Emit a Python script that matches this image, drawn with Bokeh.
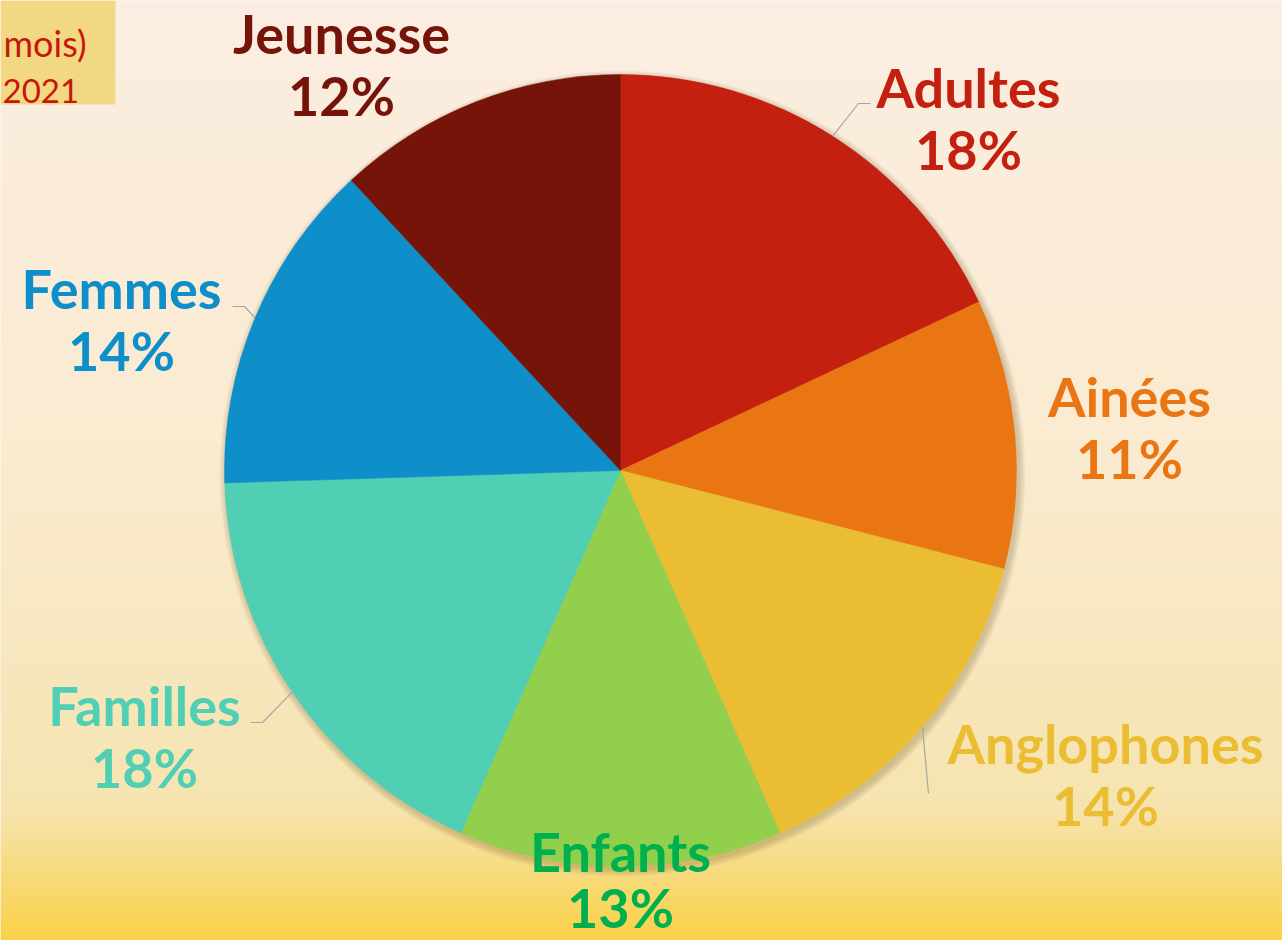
import numpy as np
from bokeh.plotting import figure
from bokeh.models import ColumnDataSource
from bokeh.core.properties import value
from bokeh.embed import file_html
from bokeh.resources import INLINE

# ---- data ----
categories = ["Adultes", "Ainées", "Anglophones", "Enfants", "Familles", "Femmes", "Jeunesse"]
shares = [18.0, 11.0, 14.4, 13.2, 17.9, 13.6, 11.9]
pct_labels = ["18%", "11%", "14%", "13%", "18%", "14%", "12%"]
slice_colors = ["#C4200F", "#E97612", "#EBBD33", "#92CF4C", "#51CFB4", "#0E8FC9", "#771409"]
label_colors = ["#C4200F", "#E97612", "#EBBD33", "#00B04F", "#51CFB4", "#0E8FC9", "#771409"]
title_lines = ["mois)", "2021"]

W, H = 1282, 940
CX, CY, R = 620, H - 470, 396

p = figure(width=W, height=H, x_range=(0, W), y_range=(0, H),
           output_backend="svg", toolbar_location=None,
           x_axis_location=None, y_axis_location=None,
           min_border=0, outline_line_color=None)
p.grid.visible = False
p.background_fill_color = "#FCEEE2"
p.border_fill_color = "#FCEEE2"

# background gradient
stops = [(0.0, (252, 238, 226)), (0.5, (250, 235, 208)), (0.86, (246, 228, 176)),
         (0.94, (248, 218, 118)), (1.0, (250, 210, 72))]
n = 240
img = np.zeros((n, 1), dtype=np.uint32)
view = img.view(dtype=np.uint8).reshape((n, 1, 4))
for i in range(n):
    t = 1 - i / (n - 1)  # row 0 is bottom
    c = stops[-1][1]
    for k in range(len(stops) - 1):
        t0, c0 = stops[k]
        t1, c1 = stops[k + 1]
        if t0 <= t <= t1:
            f = (t - t0) / (t1 - t0)
            c = [int(c0[j] + (c1[j] - c0[j]) * f) for j in range(3)]
            break
    view[i, 0, 0:3] = c
    view[i, 0, 3] = 255
p.image_rgba(image=[img], x=0, y=0, dw=W, dh=H)

# title box (cropped in the reference)
p.quad(left=0, right=115, bottom=H - 104, top=H, fill_color="#F3D883", line_color=None)
p.text(x=[3], y=[H - 42], text=[title_lines[0]], text_align="left",
       text_baseline="alphabetic", text_color="#C8160A", text_font=value("Lato"),
       text_font_size="36px")
p.text(x=[2], y=[H - 90], text=[title_lines[1]], text_align="left",
       text_baseline="alphabetic", text_color="#C8160A", text_font=value("Lato"),
       text_font_size="33px")

# shadow
for k in range(7):
    p.circle(x=CX + 2, y=CY - 3, radius=R + 7 - k, fill_color="#6b5a30",
             fill_alpha=0.045, line_color=None)

# pie
fr = np.array(shares) / sum(shares)
cum = np.concatenate([[0], np.cumsum(fr)])
start = np.pi / 2 - 2 * np.pi * cum[:-1]
end = np.pi / 2 - 2 * np.pi * cum[1:]
src = ColumnDataSource(dict(cat=categories, start=start, end=end, color=slice_colors))
p.wedge(x=CX, y=CY, radius=R, start_angle="start", end_angle="end", direction="clock",
        fill_color="color", line_color="color", line_width=0.5, source=src)

# leader lines from slice mid-angles
mid = (start + end) / 2
ex = CX + R * np.cos(mid)
ey = CY + R * np.sin(mid)
leader_targets = {0: [(858, H - 103), (870, H - 103)],
                  2: [(928, H - 793)],
                  4: [(262, H - 722), (250, H - 722)],
                  5: [(244, H - 306), (232, H - 306)]}
for i, pts in leader_targets.items():
    xs = [ex[i]] + [q[0] for q in pts]
    ys = [ey[i]] + [q[1] for q in pts]
    p.line(xs, ys, line_color="#A6A6A6", line_width=1.2)

# labels (layout positions)
lab_x = [968, 1129, 1105, 620, 144, 121, 341]
lab_y1 = [104, 413, 760, 868, 722, 305, 50]
lab_gap = [62, 62, 62, 56, 62, 62, 62]
off = 17
fs = "54px"
p.text(x=lab_x, y=[H - v + off for v in lab_y1], text=categories, text_align="center",
       text_baseline="alphabetic", text_color=label_colors, text_font=value("Lato"),
       text_font_style="bold", text_font_size=fs)
p.text(x=lab_x, y=[H - v - g + off for v, g in zip(lab_y1, lab_gap)], text=pct_labels,
       text_align="center", text_baseline="alphabetic", text_color=label_colors,
       text_font=value("Lato"), text_font_style="bold", text_font_size=fs)

open("out.html", "w").write(file_html(p, INLINE))
